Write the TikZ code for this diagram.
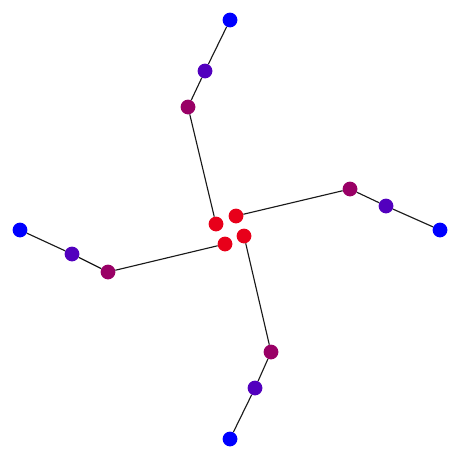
\documentclass[tikz,border=0pt]{standalone}
\usepackage{tikz}
\usepackage{xcolor}
\definecolor{corered}{HTML}{E8001A}
\definecolor{innermag}{HTML}{990066}
\definecolor{midviolet}{HTML}{5200BE}
\definecolor{tipblue}{HTML}{0000FF}
\begin{document}
\begin{tikzpicture}[
  x=0.5mm, y=-0.5mm,
  dot/.style={circle, inner sep=0pt, minimum size=7.4mm},
  core/.style={dot, fill=corered},
  inner/.style={dot, fill=innermag},
  mid/.style={dot, fill=midviolet},
  tip/.style={dot, fill=tipblue},
  edge/.style={line width=1.6pt, black!90}
]
  \useasboundingbox (0,0) rectangle (461,461);
  % core
  \node[core] (cn) at (216,224) {};
  \node[core] (ce) at (236,216) {};
  \node[core] (cw) at (225,244) {};
  \node[core] (cs) at (244,236) {};
  % north branch
  \node[inner] (n1) at (188,107) {};
  \node[mid] (n2) at (205,71) {};
  \node[tip] (n3) at (230,20) {};
  % east branch
  \node[inner] (e1) at (350,189) {};
  \node[mid] (e2) at (386,206) {};
  \node[tip] (e3) at (440,230) {};
  % west branch
  \node[inner] (w1) at (108,272) {};
  \node[mid] (w2) at (72,254) {};
  \node[tip] (w3) at (20,230) {};
  % south branch
  \node[inner] (s1) at (271,352) {};
  \node[mid] (s2) at (255,388) {};
  \node[tip] (s3) at (230,439) {};
  \draw[edge] (cn) -- (n1) -- (n2) -- (n3);
  \draw[edge] (ce) -- (e1) -- (e2) -- (e3);
  \draw[edge] (cw) -- (w1) -- (w2) -- (w3);
  \draw[edge] (cs) -- (s1) -- (s2) -- (s3);
\end{tikzpicture}
\end{document}
